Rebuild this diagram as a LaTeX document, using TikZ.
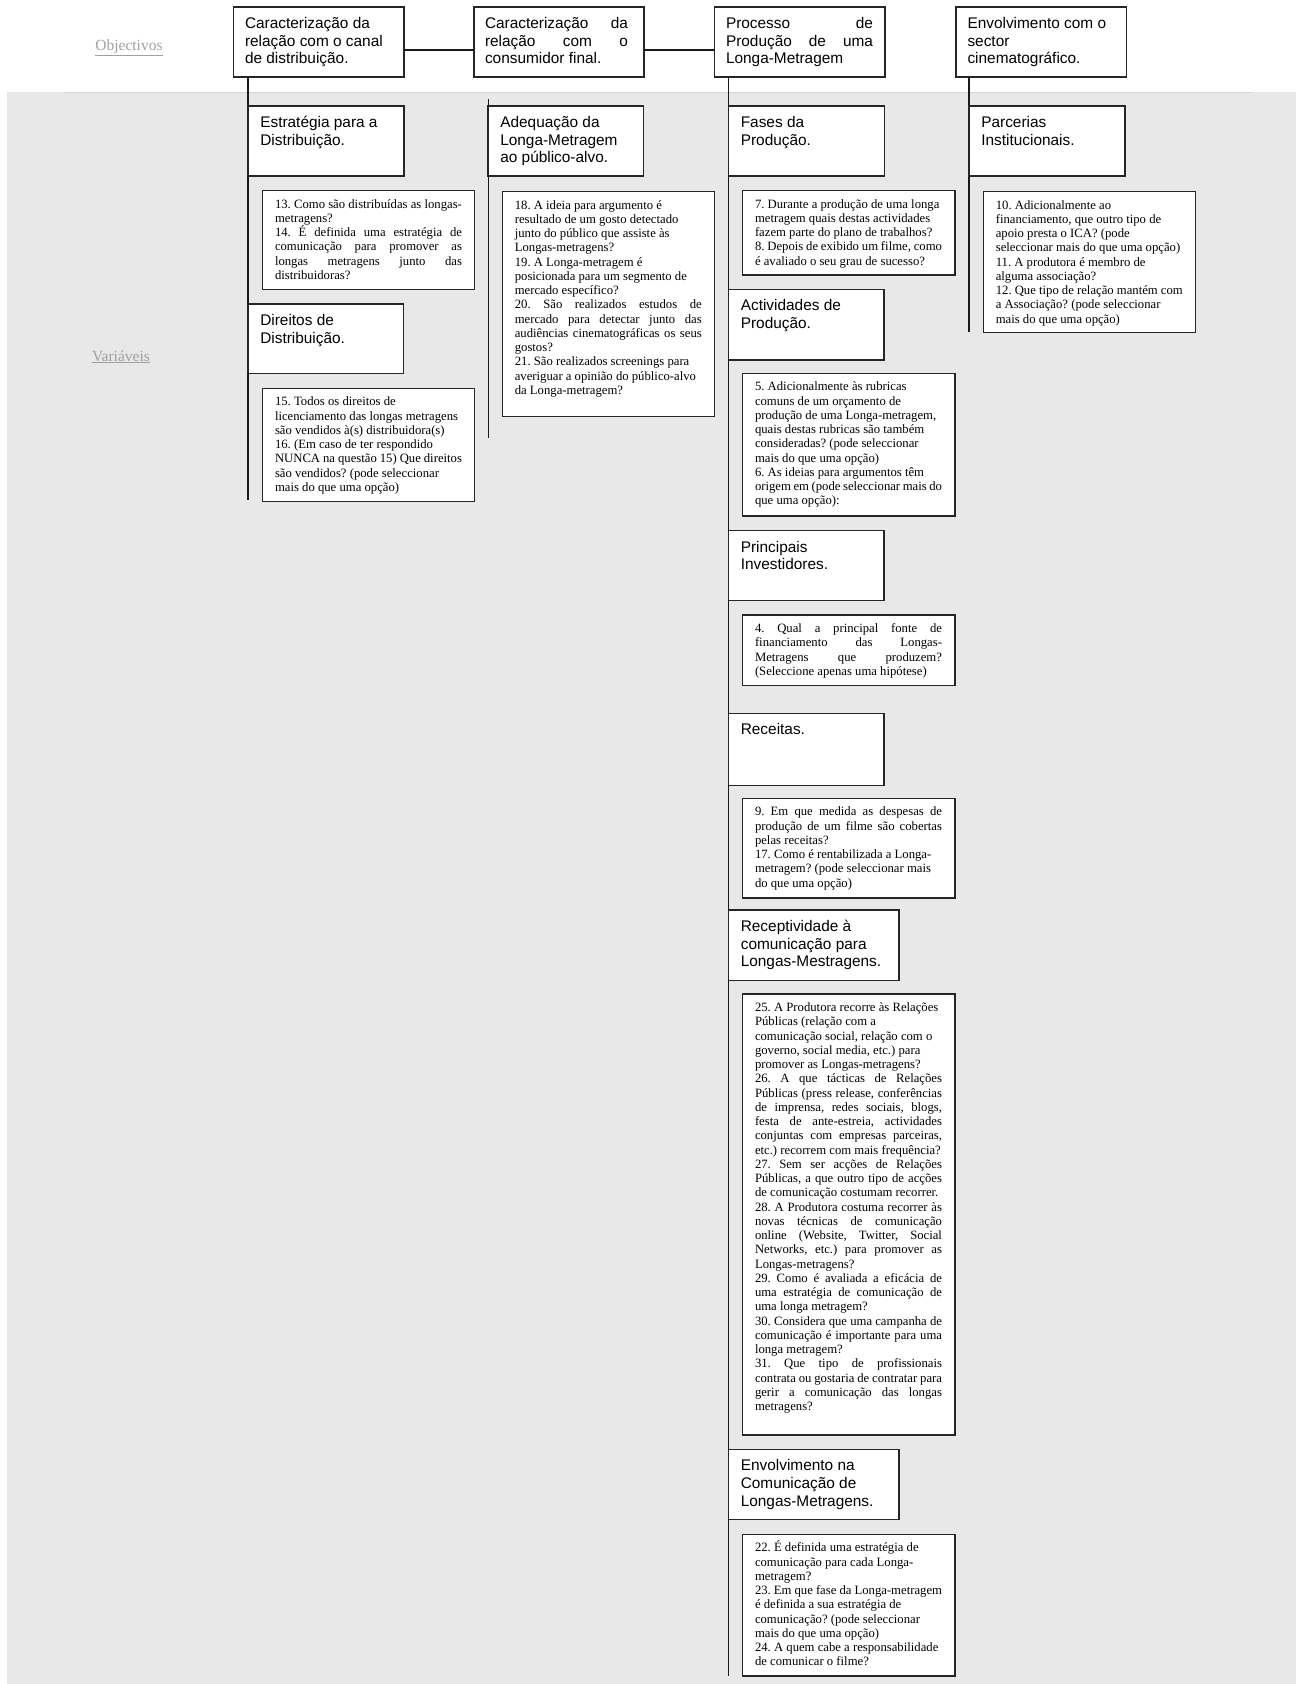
\documentclass[tikz,border=0pt]{standalone}
\usepackage{fontspec}
\setmainfont{Liberation Serif}
\newfontfamily\hfont{Liberation Sans}
\frenchspacing
\definecolor{bandgray}{RGB}{232,232,232}
\definecolor{labgray}{RGB}{160,160,160}
\definecolor{bandline}{RGB}{212,212,212}
\newdimen\tw \newdimen\lpad
\newcommand\myR[1]{\hbox{\kern\lpad\hbox to\tw{#1\hfil}}}
\newcommand\myJ[1]{\hbox{\kern\lpad\hbox to\tw{#1}}}
% #1 W, #2 H, #3 first baseline, #4 left pad, #5 text width (dimen), #6 lines
\newcommand\boxtext[6]{\vbox to #2pt{\frenchspacing\lpad=#4pt\relax\tw=#5\relax\prevdepth=0pt\vskip\dimexpr#3pt-\baselineskip\relax#6\vfil\nointerlineskip\hbox to #1pt{}}}
\newcommand\hdt[3]{\boxtext{#1}{#2}{21.5}{12.3}{\dimexpr#1pt-20pt\relax}{#3}}
\newcommand\qt[3]{\boxtext{#1}{#2}{17.5}{12.5}{187pt}{#3}}
\tikzset{
  box/.style={draw=black!85, line width=1.2pt, fill=white, inner sep=0pt, outer sep=0pt, anchor=north west},
  head/.style={box, font=\hfont\fontsize{15.4}{17.7}\selectfont},
  quest/.style={box, font=\fontsize{12.7}{14.25}\selectfont},
  conn/.style={draw=black!90, line width=1.2pt},
  lab/.style={text=labgray, font=\fontsize{15.5}{18}\selectfont, inner sep=0pt, anchor=base}
}
\begin{document}
\begin{tikzpicture}[x=1pt,y=-1pt]
\useasboundingbox (0,0) rectangle (1296,1684);
\fill[white] (0,0) rectangle (1296,1684);
\fill[bandgray] (7,92) rectangle (1296,1684);
\draw[bandline, line width=1pt] (63,92) -- (1252,92);

\node[lab] (obj) at (129,50) {\underline{Objectivos}};
\node[lab] (var) at (121,361) {\underline{Variáveis}};

% column coordinates
\coordinate (endA) at (248,500);
\coordinate (startB) at (488.3,99.3);
\coordinate (endB) at (488.3,438.3);
\coordinate (endC) at (728.5,1676);
\coordinate (endD) at (969,332);
\coordinate (lvl) at (0,50);

% top objective boxes
\node[head] (A) at (233.5,7) {\boxtext{170.5}{70}{21.5}{11.5}{145pt}{%
\myR{Caracterização da}
\myR{relação com o canal}
\myR{de distribuição.}}};
\node[head] (B) at (474,7) {\boxtext{170}{70}{21.5}{11}{143pt}{%
\myJ{Caracterização da}
\myJ{relação com o}
\myR{consumidor final.}}};
\node[head] (C) at (714.5,7) {\boxtext{170.5}{70}{21.5}{11.5}{147pt}{%
\myJ{Processo de}
\myJ{Produção de uma}
\myR{Longa-Metragem}}};
\node[head] (D) at (956,7) {\boxtext{170.5}{70}{21.5}{11.5}{147pt}{%
\myR{Envolvimento com o}
\myR{sector}
\myR{cinematográfico.}}};

% connectors
\draw[conn] (A.east |- lvl) -- (B.west |- lvl);
\draw[conn] (B.east |- lvl) -- (C.west |- lvl);
\draw[conn] (A.south -| endA) -- (endA);
\draw[conn] (startB) -- (endB);
\draw[conn] (C.south -| endC) -- (endC);
\draw[conn] (D.south -| endD) -- (endD);

% column A
\node[head] (estr) at (248,106) {\hdt{156}{70}{%
\myR{Estratégia para a}
\myR{Distribuição.}}};
\node[quest] (q13) at (262.5,190.7) {\qt{212}{98.6}{%
\myR{13. Como são distribuídas as longas-}
\myR{metragens?}
\myJ{14. É definida uma estratégia de}
\myJ{comunicação para promover as}
\myJ{longas metragens junto das}
\myR{distribuidoras?}}};
\node[head] (dir) at (248,304) {\hdt{155.5}{69.3}{%
\myR{Direitos de}
\myR{Distribuição.}}};
\node[quest] (q15) at (262.5,388.3) {\qt{212}{113.4}{%
\myR{15. Todos os direitos de}
\myR{licenciamento das longas metragens}
\myR{são vendidos à(s) distribuidora(s)}
\myR{16. (Em caso de ter respondido}
\myR{NUNCA na questão 15) Que direitos}
\myR{são vendidos? (pode seleccionar}
\myR{mais do que uma opção)}}};

% column B
\node[head] (adeq) at (488,106) {\hdt{155.5}{70}{%
\myR{Adequação da}
\myR{Longa-Metragem}
\myR{ao público-alvo.}}};
\node[quest] (q18) at (502.3,191.7) {\qt{212}{225}{%
\myR{18. A ideia para argumento é}
\myR{resultado de um gosto detectado}
\myR{junto do público que assiste às}
\myR{Longas-metragens?}
\myR{19. A Longa-metragem é}
\myR{posicionada para um segmento de}
\myR{mercado específico?}
\myJ{20. São realizados estudos de}
\myJ{mercado para detectar junto das}
\myJ{audiências cinematográficas os seus}
\myR{gostos?}
\myR{21. São realizados screenings para}
\myR{averiguar a opinião do público-alvo}
\myR{da Longa-metragem?}}};

% column C
\node[head] (fases) at (728.5,106) {\hdt{156}{70}{%
\myR{Fases da}
\myR{Produção.}}};
\node[quest] (q7) at (742.5,190.7) {\qt{212.5}{84.3}{%
\myR{7. Durante a produção de uma longa}
\myR{metragem quais destas actividades}
\myR{fazem parte do plano de trabalhos?}
\myR{8. Depois de exibido um filme, como}
\myR{é avaliado o seu grau de sucesso?}}};
\node[head] (activ) at (728.5,289.3) {\hdt{155.5}{70.7}{%
\myR{Actividades de}
\myR{Produção.}}};
\node[quest] (q5) at (742.5,373.3) {\qt{212.5}{142.7}{%
\myR{5. Adicionalmente às rubricas}
\myR{comuns de um orçamento de}
\myR{produção de uma Longa-metragem,}
\myR{quais destas rubricas são também}
\myR{consideradas? (pode seleccionar}
\myR{mais do que uma opção)}
\myR{6. As ideias para argumentos têm}
\myR{origem em (pode seleccionar mais do}
\myR{que uma opção):}}};
\node[head] (princ) at (728.5,530.7) {\hdt{155.5}{70}{%
\myR{Principais}
\myR{Investidores.}}};
\node[quest] (q4) at (742.5,615) {\qt{212.5}{70.7}{%
\myJ{4. Qual a principal fonte de}
\myJ{financiamento das Longas-}
\myJ{Metragens que produzem?}
\myR{(Seleccione apenas uma hipótese)}}};
\node[head] (rec) at (728.5,713.3) {\hdt{155.5}{72.4}{%
\myR{Receitas.}}};
\node[quest] (q9) at (742.5,798.3) {\qt{212.5}{99.7}{%
\myJ{9. Em que medida as despesas de}
\myJ{produção de um filme são cobertas}
\myR{pelas receitas?}
\myR{17. Como é rentabilizada a Longa-}
\myR{metragem? (pode seleccionar mais}
\myR{do que uma opção)}}};
\node[head] (recep) at (728.5,910) {\hdt{170.5}{70.5}{%
\myR{Receptividade à}
\myR{comunicação para}
\myR{Longas-Mestragens.}}};
\node[quest] (q25) at (742.5,994) {\qt{212.5}{441}{%
\myR{25. A Produtora recorre às Relações}
\myR{Públicas (relação com a}
\myR{comunicação social, relação com o}
\myR{governo, social media, etc.) para}
\myR{promover as Longas-metragens?}
\myJ{26. A que tácticas de Relações}
\myJ{Públicas (press release, conferências}
\myJ{de imprensa, redes sociais, blogs,}
\myJ{festa de ante-estreia, actividades}
\myJ{conjuntas com empresas parceiras,}
\myR{etc.) recorrem com mais frequência?}
\myJ{27. Sem ser acções de Relações}
\myJ{Públicas, a que outro tipo de acções}
\myR{de comunicação costumam recorrer.}
\myJ{28. A Produtora costuma recorrer às}
\myJ{novas técnicas de comunicação}
\myJ{online (Website, Twitter, Social}
\myJ{Networks, etc.) para promover as}
\myR{Longas-metragens?}
\myJ{29. Como é avaliada a eficácia de}
\myJ{uma estratégia de comunicação de}
\myR{uma longa metragem?}
\myJ{30. Considera que uma campanha de}
\myJ{comunicação é importante para uma}
\myR{longa metragem?}
\myJ{31. Que tipo de profissionais}
\myJ{contrata ou gostaria de contratar para}
\myJ{gerir a comunicação das longas}
\myR{metragens?}}};
\node[head] (envc) at (728.5,1449.3) {\hdt{170.5}{70}{%
\myR{Envolvimento na}
\myR{Comunicação de}
\myR{Longas-Metragens.}}};
\node[quest] (q22) at (742.5,1534.3) {\qt{212.5}{141.7}{%
\myR{22. É definida uma estratégia de}
\myR{comunicação para cada Longa-}
\myR{metragem?}
\myR{23. Em que fase da Longa-metragem}
\myR{é definida a sua estratégia de}
\myR{comunicação? (pode seleccionar}
\myR{mais do que uma opção)}
\myR{24. A quem cabe a responsabilidade}
\myR{de comunicar o filme?}}};

% column D
\node[head] (parc) at (969,106) {\hdt{156}{70}{%
\myR{Parcerias}
\myR{Institucionais.}}};
\node[quest] (q10) at (983.3,191.7) {\qt{212.5}{141}{%
\myR{10. Adicionalmente ao}
\myR{financiamento, que outro tipo de}
\myR{apoio presta o ICA? (pode}
\myR{seleccionar mais do que uma opção)}
\myR{11. A produtora é membro de}
\myR{alguma associação?}
\myR{12. Que tipo de relação mantém com}
\myR{a Associação? (pode seleccionar}
\myR{mais do que uma opção)}}};
\end{tikzpicture}
\end{document}
